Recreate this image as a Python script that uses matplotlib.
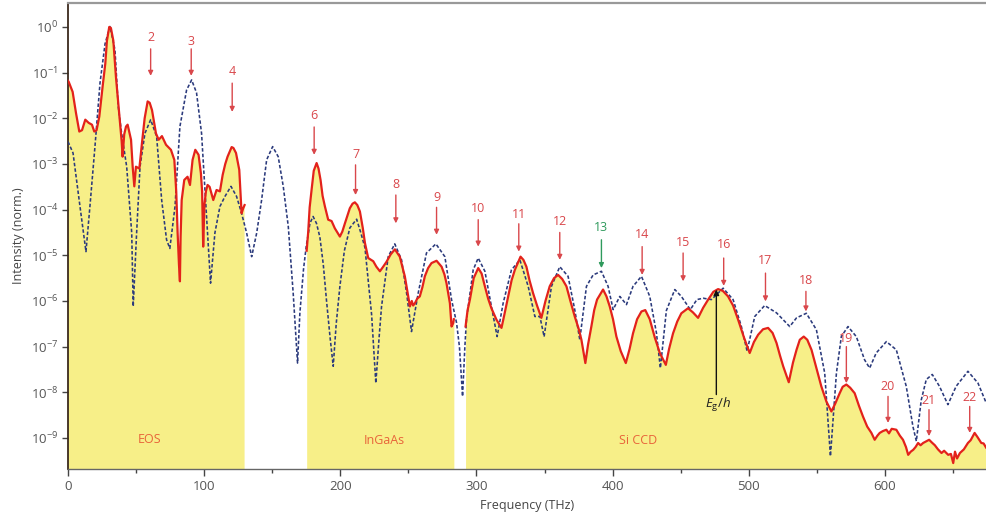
import numpy as np
import matplotlib
matplotlib.use("Agg")
import matplotlib.pyplot as plt
from matplotlib.ticker import FixedLocator, FuncFormatter, MultipleLocator

plt.rcParams['font.family'] = ['Open Sans', 'DejaVu Sans']
plt.rcParams['mathtext.fontset'] = 'custom'
plt.rcParams['mathtext.rm'] = 'Open Sans'
plt.rcParams['mathtext.it'] = 'Open Sans:italic'

# ---------------- data (frequency in THz, intensity as log10) ----------------
red_eos_f = [0, 0.5, 3.4, 5.9, 8.3, 10.3, 12.7, 15.2, 17.6, 19.3, 21, 23, 25.4, 27.4, 28.6, 30.3,
             31.5, 33.3, 35.2, 37.7, 39.4, 40.1, 41.3, 42.6, 43.8, 46.3, 47.5, 48.7, 49.9, 52.4,
             54.3, 56.3, 58.5, 60, 61.7, 64.6, 66.6, 69, 72, 75.6, 78.1, 79.5, 80.5, 81.5, 82.2,
             82.7, 83.5, 85.4, 87.8, 89.6, 91.5, 93.5, 95.9, 97.6, 98.5, 99.3, 100.2, 101.3, 102.5,
             104, 106.7, 109.1, 111.6, 113.6, 115.5, 117.2, 120.2, 121.5, 123.4, 125.8, 127.5,
             128.7, 129.7]
red_eos_lg = [-1.18, -1.2, -1.42, -1.89, -2.29, -2.26, -2.03, -2.1, -2.14, -2.29, -2.26, -1.96,
              -1.31, -0.8, -0.3, 0.0, -0.02, -0.3, -1.09, -1.93, -2.5, -2.84, -2.35, -2.18, -2.14,
              -2.47, -3.06, -3.49, -3.06, -3.1, -2.55, -2.0, -1.63, -1.66, -1.82, -2.33, -2.47,
              -2.39, -2.58, -2.69, -2.91, -3.6, -4.5, -5.2, -5.57, -4.6, -3.79, -3.35, -3.28,
              -3.46, -2.91, -2.69, -2.8, -3.2, -3.6, -4.81, -3.9, -3.6, -3.46, -3.5, -3.79, -3.57,
              -3.6, -3.24, -3.0, -2.84, -2.63, -2.65, -2.76, -3.13, -4.08, -3.97, -3.9]

red_ingaas_f = [175.3, 176.4, 177.5, 178.9, 180.5, 182.6, 184, 185.5, 187, 188.7, 191.1, 193.6,
                196, 199.7, 201.5, 203.4, 207, 209, 210.7, 212.5, 214.4, 216.5, 218.1, 220.5,
                224.2, 226.5, 229.1, 231.5, 234, 237, 240.1, 243.7, 246, 247.4, 249.9, 251.1,
                252.5, 253.5, 254.8, 256.5, 258.4, 260.3, 262.1, 264.5, 267, 270.7, 274.4, 276.5,
                278, 280.5, 281.7, 282.9, 283.4]
red_ingaas_lg = [-4.9, -4.5, -3.95, -3.57, -3.15, -2.98, -3.1, -3.35, -3.7, -3.93, -4.22, -4.25,
                 -4.41, -4.59, -4.48, -4.3, -3.97, -3.87, -3.84, -3.9, -4.04, -4.4, -4.73, -5.06,
                 -5.13, -5.25, -5.35, -5.25, -5.14, -4.98, -4.87, -5.03, -5.3, -5.46, -5.9, -6.12,
                 -6.0, -6.1, -6.05, -5.95, -5.9, -5.7, -5.46, -5.28, -5.17, -5.12, -5.25, -5.42,
                 -5.61, -6.05, -6.56, -6.49, -6.4]

red_ccd_f = [292, 293.5, 295.2, 298, 301.3, 303.8, 306.2, 308.6, 311, 314.7, 318.4, 320.5, 323.3,
             325.8, 328.2, 332.4, 334.5, 336.7, 339, 341.6, 344.5, 347.7, 350.7, 353.8, 357, 360,
             363, 366.1, 369, 372.2, 375, 377.1, 380, 382, 384.4, 386.5, 388.6, 393, 395.5, 397.9,
             400.3, 402.8, 406, 409.7, 412.5, 415, 418, 421.2, 424, 427.3, 431, 434.7, 439.1,
             441.5, 444.4, 447.5, 450.5, 455.4, 459, 462.8, 466.5, 470.2, 474, 477.5, 481, 484.8,
             488.5, 492.2, 496.5, 500.7, 503.8, 506.9, 510.5, 514.2, 517.5, 520.4, 523, 525.3,
             529.4, 532.5, 535.1, 537.5, 540.4, 543, 546.1, 549.5, 553.3, 557, 560.7, 563.5, 566.8,
             569, 571.7, 574.5, 577.8, 581, 583.9, 587, 590.1, 592.5, 594.5, 596.2, 598.5, 601.1,
             603, 605, 608.4, 611, 613.3, 615.5, 617.1, 619, 620.8, 622.5, 624.4, 626.2, 628.1,
             630, 632.5, 634.5, 636.7, 639, 641.6, 643.5, 646.5, 648.5, 650.2, 651.5, 653, 655.1,
             658, 661, 663, 665.9, 668, 670.8, 672.5, 674.5, 676]
red_ccd_lg = [-6.56, -6.2, -5.97, -5.5, -5.28, -5.4, -5.68, -5.95, -6.16, -6.41, -6.59, -6.3, -5.9,
              -5.55, -5.32, -5.03, -5.1, -5.25, -5.55, -5.83, -6.1, -6.37, -6.0, -5.68, -5.5,
              -5.43, -5.52, -5.68, -6.0, -6.34, -6.6, -6.85, -7.36, -6.95, -6.56, -6.2, -5.97,
              -5.75, -5.9, -6.12, -6.4, -6.78, -7.1, -7.36, -7.05, -6.71, -6.4, -6.23, -6.2, -6.4,
              -6.8, -7.14, -7.4, -7.05, -6.71, -6.45, -6.27, -6.16, -6.25, -6.37, -6.15, -5.97,
              -5.8, -5.74, -5.78, -5.9, -6.1, -6.41, -6.8, -7.14, -6.9, -6.74, -6.62, -6.59, -6.7,
              -6.92, -7.2, -7.43, -7.78, -7.35, -7.07, -6.85, -6.78, -6.85, -7.07, -7.45, -7.87,
              -8.2, -8.42, -8.25, -8.02, -7.88, -7.83, -7.9, -8.02, -8.3, -8.53, -8.75, -8.89,
              -9.04, -8.95, -8.89, -8.85, -8.82, -8.9, -8.8, -8.82, -8.95, -9.04, -9.2, -9.37,
              -9.3, -9.26, -9.2, -9.11, -9.16, -9.11, -9.08, -9.04, -9.1, -9.16, -9.25, -9.33,
              -9.28, -9.37, -9.35, -9.55, -9.3, -9.45, -9.33, -9.25, -9.11, -9.05, -8.89, -8.98,
              -9.11, -9.12, -9.22, -9.25]

blue_f = [0, 3.7, 8.8, 13.2, 16.1, 19.8, 23.5, 27.2, 30.8, 34.5, 36.9, 39.4, 43.1, 46.8, 47.9,
          50.4, 52.9, 56.5, 60.7, 65.1, 68.8, 72.4, 74.8, 78.6, 82.2, 87.1, 90.8, 94.4, 98.1,
          101.8, 104.7, 107.9, 111.6, 115.3, 119.7, 123.8, 127.5, 131.2, 134.9, 138.6, 142.2,
          145.9, 150.3, 154.4, 158.1, 161.8, 165.4, 168.6, 170.3, 173, 175, 177.7, 180, 182.5,
          185, 187.5, 189.9, 192.5, 194.8, 197, 199.7, 203, 207, 212, 215, 218.1, 221, 223,
          226.1, 228.5, 230.3, 235.2, 240, 245, 248.7, 252.3, 257.2, 263.3, 270.2, 276.8, 281.7,
          285.4, 287.5, 289.8, 291.5, 292.7, 297.6, 301.3, 306.2, 311, 315.2, 319.6,
          325.7, 331.9, 338, 342.9, 346.6, 349.7, 355.1, 361.2, 367.3, 372.2, 375.9, 380.8, 385.7,
          391.8, 396.7, 400.4, 405.3, 410.2, 415, 421.2, 427.3, 432.2, 435.1, 439.5, 445.7, 450.5,
          457.1, 461.9, 466.5, 472.6, 481.2, 488.5, 494.6, 498.8, 504.4, 511.7, 520.4, 530.1,
          535.1, 542.3, 549.7, 555.8, 560, 564.4, 568, 572.9, 579, 585.1, 588.8, 593.6, 601.1,
          608.4, 615.7, 620.6, 623.1, 626.7, 630.4, 634.8, 640.1, 646.3, 652.3, 661, 668.4, 674.5]
blue_lg = [-2.51, -2.76, -3.93, -4.92, -3.93, -2.62, -1.23, -0.37, 0.01, -0.5, -1.74, -2.33, -3.06,
           -4.51, -6.12, -4.51, -3.06, -2.33, -2.03, -2.4, -3.79, -4.66, -4.85, -3.93, -2.18,
           -1.38, -1.16, -1.44, -2.33, -4.15, -5.61, -4.51, -3.93, -3.71, -3.49, -3.71, -4.08,
           -4.51, -5.03, -4.51, -3.79, -2.91, -2.62, -2.84, -3.49, -4.37, -5.83, -7.36, -6.27,
           -5.3, -4.8, -4.3, -4.15, -4.3, -4.6, -5.2, -6.0, -6.8, -7.43, -6.5, -5.68, -4.9, -4.4,
           -4.21, -4.5, -4.83, -5.7, -6.3, -7.8, -6.8, -6.12, -5.03, -4.75, -5.1, -5.83, -6.67,
           -5.83, -4.95, -4.75, -5.03, -5.97, -6.48, -7.0, -8.09, -7.0, -6.4, -5.32, -5.06,
           -5.35, -6.12, -6.78, -6.05, -5.32, -5.1, -5.68, -6.34, -6.34, -6.78,
           -5.68, -5.25, -5.46, -6.19, -6.85, -5.68, -5.43, -5.35, -5.68, -6.19, -5.9, -6.08,
           -5.68, -5.46, -5.9, -6.7, -7.47, -6.21, -5.75, -5.9, -6.19, -5.97, -5.94, -5.97, -5.72,
           -5.97, -6.56, -7.1, -6.34, -6.1, -6.26, -6.56, -6.37, -6.27, -6.63, -7.58, -9.4, -7.58,
           -6.78, -6.56, -6.78, -7.29, -7.47, -7.14, -6.89, -7.07, -7.87, -8.75, -9.07, -8.17,
           -7.72, -7.61, -7.87, -8.27, -7.87, -7.54, -7.8, -8.24]

# harmonic markers
harm_labels = ['2', '3', '4', '6', '7', '8', '9', '10', '11', '12', '13', '14', '15', '16', '17',
               '18', '19', '20', '21', '22']
harm_f = [60.7, 90.5, 120.6, 180.8, 211.2, 240.8, 270.7, 301.3, 331.1, 361.2, 391.8, 421.7,
          451.8, 481.6, 512.3, 542.0, 571.7, 602.3, 632.4, 662.3]

region_labels = ['EOS', 'InGaAs', 'Si CCD']
eg_freq = 476.2

# ---------------- layout / style (not data) ----------------
harm_text_lg = [-0.234, -0.31, -0.98, -1.94, -2.80, -3.44, -3.73, -3.98, -4.10, -4.27, -4.39,
                -4.54, -4.73, -4.77, -5.12, -5.56, -6.83, -7.88, -8.18, -8.11]
harm_start_lg = [-0.48, -0.48, -1.23, -2.19, -3.02, -3.68, -3.95, -4.22, -4.31, -4.50, -4.66,
                 -4.81, -4.95, -5.06, -5.39, -5.79, -7.0, -8.09, -8.38, -8.31]
harm_tip_lg = [-1.07, -1.07, -1.86, -2.80, -3.68, -4.30, -4.55, -4.81, -4.92, -5.10, -5.28,
               -5.43, -5.57, -5.67, -6.01, -6.23, -7.80, -8.67, -8.96, -8.89]
region_pos = [(60, -9.04), (232, -9.06), (418.5, -9.06)]

RED = '#e3221b'
LBL_RED = '#d9474b'
ORANGE = '#e8643a'
GREEN = '#2f9a5c'
BLUE = '#2b3a7c'
YELLOW = '#f7ef88'

YMIN, YMAX = 10 ** -9.68, 10 ** 0.525

fig = plt.figure(figsize=(9.87, 5.16), dpi=100)
ax = fig.add_axes([68 / 987, 47 / 516, (987 - 68) / 987, 466 / 516])
ax.set_yscale('log')

for f, lg in [(red_eos_f, red_eos_lg), (red_ingaas_f, red_ingaas_lg), (red_ccd_f, red_ccd_lg)]:
    f = np.asarray(f)
    v = 10 ** np.asarray(lg)
    ax.fill_between(f, 1e-12, v, color=YELLOW, lw=0, zorder=1)
    ax.plot(f, v, color=RED, lw=1.6, zorder=4, solid_joinstyle='round')

ax.plot(blue_f, 10 ** np.asarray(blue_lg), color=BLUE, lw=1.15,
        linestyle=(0, (2.2, 1.3)), zorder=3)

for lab, f, t, s, e in zip(harm_labels, harm_f, harm_text_lg, harm_start_lg, harm_tip_lg):
    c = GREEN if lab == '13' else LBL_RED
    ax.annotate('', xy=(f, 10 ** e), xytext=(f, 10 ** s),
                arrowprops=dict(arrowstyle='-|>', color=c, lw=1.0, mutation_scale=7,
                                shrinkA=0, shrinkB=0), zorder=5)
    ax.text(f, 10 ** t, lab, color=c, fontsize=9, ha='center', va='center', zorder=5)

for lab, (x, lg) in zip(region_labels, region_pos):
    ax.text(x, 10 ** lg, lab, color=ORANGE, fontsize=9, ha='center', va='center', zorder=5)

ax.annotate('', xy=(eg_freq, 10 ** -5.75), xytext=(eg_freq, 10 ** -8.05),
            arrowprops=dict(arrowstyle='-|>', color='#111111', lw=1.0, mutation_scale=8,
                            shrinkA=0, shrinkB=0), zorder=6)
ax.text(eg_freq + 1, 10 ** -8.27, r'$E_{\mathrm{g}}/h$', color='#222222', fontsize=9.5,
        ha='center', va='center', zorder=6)


def yfmt(v, pos):
    k = int(round(np.log10(v)))
    return r'$\mathregular{10^{%d}}$' % k


ax.set_xlim(0, 675)
ax.set_ylim(YMIN, YMAX)
ax.xaxis.set_major_locator(MultipleLocator(100))
ax.xaxis.set_minor_locator(MultipleLocator(50))
ax.yaxis.set_major_locator(FixedLocator([10.0 ** k for k in range(-9, 1)]))
ax.yaxis.set_minor_locator(FixedLocator([]))
ax.yaxis.set_major_formatter(FuncFormatter(yfmt))

ax.tick_params(axis='both', which='major', direction='out', labelsize=9.5, labelcolor='#555555',
               color='#444444', width=1.0)
ax.tick_params(axis='x', which='major', length=5, pad=3)
ax.tick_params(axis='x', which='minor', length=3, color='#444444', width=1.0)
ax.tick_params(axis='y', which='major', length=4, pad=3)

ax.spines['left'].set_color('#3b2a1e')
ax.spines['left'].set_linewidth(1.3)
ax.spines['bottom'].set_color('#666666')
ax.spines['bottom'].set_linewidth(1.0)
ax.spines['top'].set_color('#999999')
ax.spines['top'].set_linewidth(1.6)
ax.spines['right'].set_visible(False)

ax.set_xlabel('Frequency (THz)', fontsize=9, color='#444444', labelpad=4)
ax.set_ylabel('Intensity (norm.)', fontsize=9, color='#444444', labelpad=4)

fig.savefig('out.png', dpi=100)
